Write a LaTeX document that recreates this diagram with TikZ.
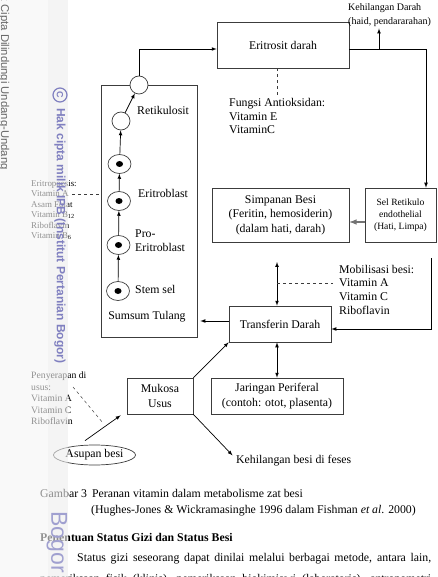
\documentclass[tikz,border=0pt]{standalone}
\usepackage{fontspec}
\setmainfont{Liberation Serif}
\setsansfont{Liberation Sans}
\usepackage{tikz}
\usetikzlibrary{positioning,shapes.geometric}

\definecolor{ungu}{RGB}{128,128,192}
\definecolor{garisabu}{RGB}{60,60,60}

\begin{document}
\begin{tikzpicture}[x=1pt,y=-1pt,>=latex]
\tikzset{dasar/.style={draw=garisabu,line width=0.7pt,text badly centered}}
\tikzset{kotak/.style={dasar, rectangle, align=center, inner sep=2pt,
  font=\fontsize{11.8}{14.5}\selectfont}}
\tikzset{sel/.style={dasar, circle, minimum size=18pt, inner sep=0pt, fill=white}}
\tikzset{selinti/.style={dasar, ellipse, minimum width=23pt, minimum height=19pt, inner sep=0pt, fill=white,
  path picture={\fill[black] (path picture bounding box.center) ellipse (3.5pt and 3pt);}}}
\tikzset{teks/.style={font=\fontsize{11.8}{13.8}\selectfont, align=left, inner sep=0pt}}
\tikzset{kecil/.style={font=\fontsize{8.9}{10.4}\selectfont, align=left, inner sep=0pt}}
\tikzset{panah/.style={draw=black, line width=0.7pt, ->}}
\tikzset{panah2/.style={draw=black, line width=0.7pt, <->}}
\tikzset{putus/.style={draw=garisabu, line width=0.5pt, dashed}}

\path[use as bounding box] (0,0) rectangle (437,577);
\clip (0,0) rectangle (437,577);

\node[kotak, minimum width=96pt, minimum height=252pt](sumsum)at(149,211){};
\node[teks](sumsumlbl)at(147,317){Sumsum Tulang};

\node[kotak, minimum width=132pt, minimum height=46pt](eritrosit)at(283,45){Eritrosit darah};
\node[kotak, minimum width=137pt, minimum height=54pt](simpanan)at(280.5,215){Simpanan Besi\\(Feritin, hemosiderin)\\(dalam hati, darah)};
\node[kotak, minimum width=71pt, minimum height=54pt, font=\fontsize{9.6}{12}\selectfont](selre)at(400.5,215){Sel Retikulo\\endothelial\\(Hati, Limpa)};
\node[kotak, minimum width=102pt, minimum height=36pt](transferin)at(280,324){Transferin Darah};
\node[kotak, minimum width=66pt, minimum height=36pt](mukosa)at(160,396){Mukosa\\Usus};
\node[kotak, minimum width=132pt, minimum height=36pt](jaringan)at(277,396){Jaringan Periferal\\(contoh: otot, plasenta)};
\node[kotak, ellipse, minimum width=79pt, minimum height=20pt, inner sep=0pt](asupan)at(94.5,455){Asupan besi};

\node[sel](r2)at(139,85){};
\node[sel](r1)at(121,121){};
\node[selinti](e3)at(119.5,164){};
\node[selinti](e2)at(119,201){};
\node[selinti](e1)at(118.5,245){};
\node[selinti](stem)at(118,291){};

\node[teks, anchor=west](lretik)at(137,110){Retikulosit};
\node[teks, anchor=west](lerit)at(138,193){Eritroblast};
\node[teks, anchor=west](lpro)at(135,241){Pro-\\Eritroblast};
\node[teks, anchor=west](lstem)at(135,289){Stem sel};

\node[kecil, anchor=north west](eritropoesis)at(31,180.5){Eritropoesis:\\Vitamin A\\Asam Folat\\Vitamin B\textsubscript{12}\\Riboflavin\\Vitamin B\textsubscript{6}};
\node[kecil, anchor=north west, font=\fontsize{9.7}{11.5}\selectfont](penyerapan)at(31,372){Penyerapan di\\usus:\\Vitamin A\\Vitamin C\\Riboflavin};
\node[teks, anchor=north west](fungsi)at(229,98){Fungsi Antioksidan:\\Vitamin E\\VitaminC};
\node[teks, anchor=north west, font=\fontsize{11.8}{13.6}\selectfont](mobil)at(339,265){Mobilisasi besi:\\Vitamin A\\Vitamin C\\Riboflavin};
\node[teks, anchor=north west, font=\fontsize{10}{14}\selectfont](hilang)at(348,3){Kehilangan Darah\\(haid, pendararahan)};
\node[teks, anchor=west](feses)at(236,461){Kehilangan besi di feses};

\coordinate (cabang) at (379,49);
\coordinate (ujung) at (277,262);
\coordinate (mobA) at (277,283);
\coordinate (kanan) at (431,258);
\coordinate (vitA) at (72,194);
\coordinate (pny1) at (73,387);
\coordinate (pny2) at (103,423);

\path[panah] (stem) -- (e1);
\path[panah] (e1) -- (e2);
\path[panah] (e2) -- (e3);
\path[panah] (e3) -- (r1);
\path[panah] (r1) -- (r2);
\path[panah] (r2) |- ([yshift=-4pt]eritrosit.west);
\path[panah] ([yshift=-4pt]eritrosit.east) -| ([xshift=25.5pt]selre.north);
\path[panah, shorten >=2pt] (cabang) -- (cabang |- hilang.south);
\path[putus] ([xshift=-6pt]eritrosit.south) -- ([xshift=-6pt]eritrosit.south |- fungsi.north);
\path[panah, line width=1.5pt, draw=black!55] ([yshift=-7pt]selre.west) -- ([yshift=-7pt]selre.west -| simpanan.east);
\path[panah2] (ujung) -- (ujung |- transferin.north);
\path[putus, shorten >=6pt] (mobA) -- (mobA -| mobil.west);
\path[panah] (kanan) |- ([yshift=-5pt]transferin.east);
\path[panah, shorten >=3pt] ([yshift=3pt]transferin.west) -- ([yshift=3pt]transferin.west -| sumsum.east);
\path[panah] (mukosa.north east) -- (transferin.south west);
\path[panah, shorten >=5pt] (mukosa.south east) -- ([yshift=2pt]feses.west);
\path[panah2] (jaringan.north) -- (jaringan.north |- transferin.south);
\path[panah] ([shift={(-9.5pt,4pt)}]asupan.north) -- ([shift={(-6pt,-1pt)}]mukosa.south west);
\path[putus] (pny1) -- (pny2);
\path[putus] (vitA) -- (vitA -| sumsum.west);

\node[teks, anchor=base west](gambar)at(40,497){Gambar 3\hspace{5pt}Peranan vitamin dalam metabolisme zat besi};
\node[teks, anchor=base west](sumber)at(91,513){(Hughes-Jones \& Wickramasinghe 1996 dalam Fishman \textit{et al}. 2000)};
\node[teks, anchor=base west](judul)at(40,541){\textbf{Penentuan Status Gizi dan Status Besi}};
\node[teks, anchor=base west](par1)at(77,561){\makebox[354pt][s]{Status gizi seseorang dapat dinilai melalui berbagai metode, antara lain,}};
\node[teks, anchor=base west](par2)at(40,582){\makebox[391pt][s]{pemeriksaan fisik (klinis), pemeriksaan biokimiawi (laboratoris), antropometri}};

\fill[gray!8, opacity=0.6] (0,0) rectangle (48,577);
\fill[gray!15, opacity=0.6] (48,0) rectangle (68,577);
\node[rotate=-90, anchor=east, font=\sffamily\fontsize{11.3}{11.3}\selectfont, text=black!60, inner sep=0pt](hakcipta)at(4,170){Hak Cipta Dilindungi Undang-Undang};
\node[circle, draw=ungu, line width=1.2pt, rotate=-90, text=ungu, font=\sffamily\bfseries\fontsize{9}{9}\selectfont, inner sep=0pt, minimum size=14pt](copy)at(60,95){C};
\node[rotate=-90, anchor=west, font=\sffamily\bfseries\fontsize{12}{12}\selectfont, text=ungu, inner sep=0pt](ipb)at(60,108){Hak cipta milik IPB (Institut Pertanian Bogor)};
\node[rotate=-90, font=\sffamily\fontsize{23}{23}\selectfont, text=ungu!75, inner sep=0pt](bogor)at(57,542){Bogor};
\end{tikzpicture}
\end{document}
